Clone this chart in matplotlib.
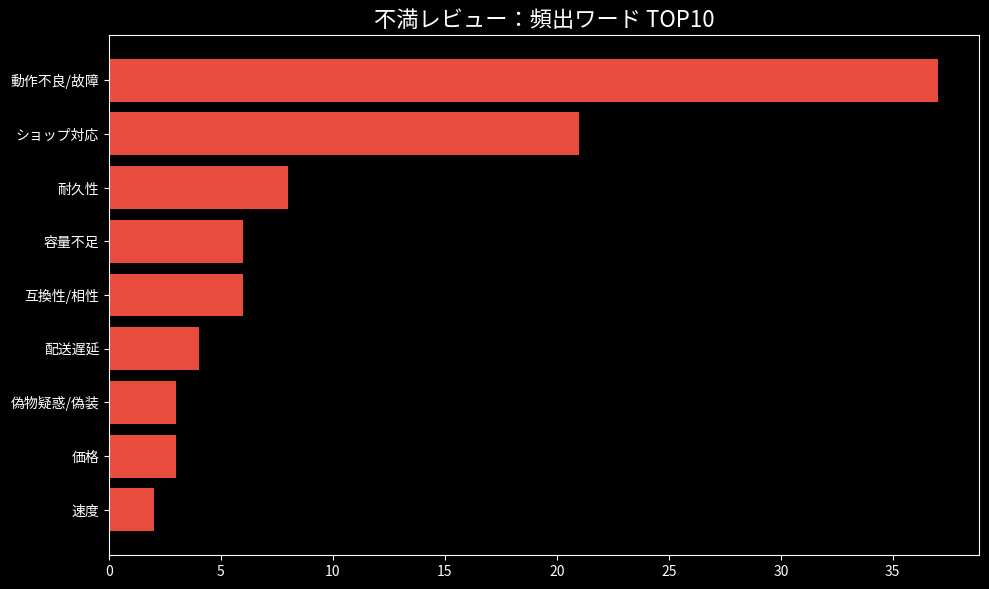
import matplotlib
matplotlib.use("Agg")
import matplotlib.pyplot as plt

# 不満レビューの頻出ワード（上位から）
words = ["動作不良/故障", "ショップ対応", "耐久性", "容量不足", "互換性/相性",
         "配送遅延", "偽物疑惑/偽装", "価格", "速度"]
counts = [37, 21, 8, 6, 6, 4, 3, 3, 2]

plt.style.use("dark_background")
plt.rcParams['font.family'] = ['Noto Sans CJK JP', 'DejaVu Sans']

fig = plt.figure(figsize=(9.89, 5.89), dpi=100)
ax = fig.add_axes([109 / 989, 1 - 555 / 589, (979 - 109) / 989, (555 - 35) / 589])

ax.barh(words[::-1], counts[::-1], color="#e74c3c", height=0.8)
ax.set_title("不満レビュー：頻出ワード TOP10", fontsize=16)
ax.tick_params(labelsize=10)

fig.savefig("out.png", dpi=100)
